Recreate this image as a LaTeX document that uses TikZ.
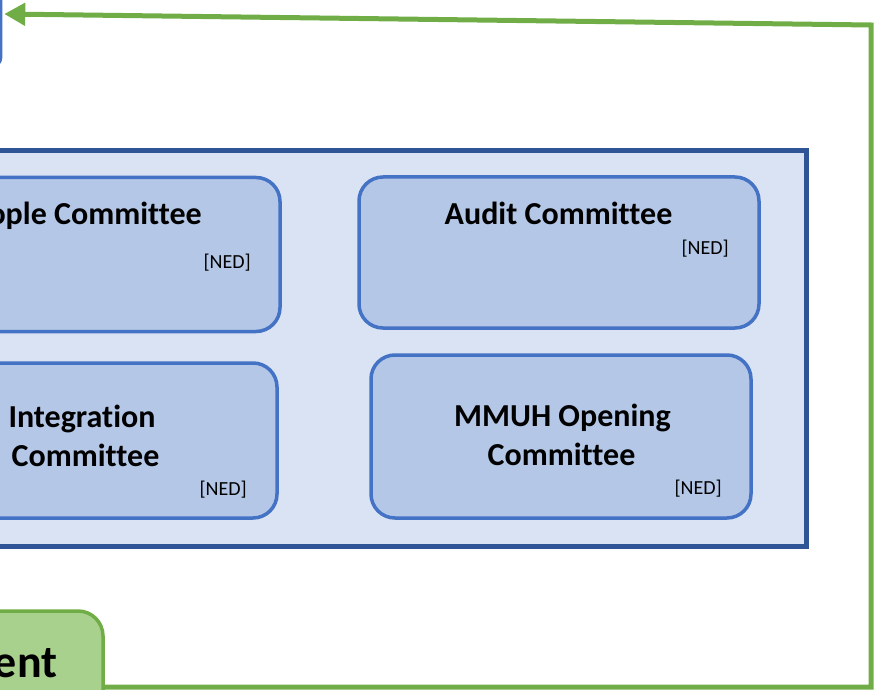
\documentclass[tikz,border=0pt]{standalone}
\usepackage{fontspec}
\setmainfont{Carlito}[Ligatures=CommonOff]
\usetikzlibrary{arrows.meta}
\definecolor{contfill}{HTML}{DAE3F3}
\definecolor{contline}{HTML}{2F5597}
\definecolor{boxfill}{HTML}{B4C7E7}
\definecolor{boxline}{HTML}{4472C4}
\definecolor{grline}{HTML}{70AD47}
\definecolor{grfill}{HTML}{A9D18E}
\begin{document}
\begin{tikzpicture}[x=1pt,y=-1pt,
  container/.style={draw=contline, fill=contfill, line width=5pt, inner sep=0pt},
  cbox/.style={draw=boxline, fill=boxfill, line width=3.5pt, rounded corners=24pt, inner sep=0pt},
  gbox/.style={draw=grline, fill=grfill, line width=3.5pt, rounded corners=25pt, inner sep=0pt},
  tbox/.style={draw=boxline, fill=white, line width=2.5pt, rounded corners=8pt, inner sep=0pt},
  title/.style={inner sep=0pt, font=\fontsize{32}{39}\selectfont\bfseries},
  ned/.style={inner sep=0pt, font=\fontsize{20}{24}\selectfont},
  flow/.style={draw=grline, line width=5pt, line join=miter}
]
\useasboundingbox (0,0) rectangle (876,690);
% top-left box (partly visible)
\node[tbox, minimum width=301pt, minimum height=104pt] (topbox) at (-149.5,14) {};
% container
\node[container, minimum width=826pt, minimum height=396pt] (cont) at (393,348.5) {};
% committees
\node[cbox, minimum width=430pt, minimum height=154pt] (people) at (65,254.5) {};
\node[cbox, minimum width=400pt, minimum height=151pt] (audit) at (559,252.5) {};
\node[cbox, minimum width=427pt, minimum height=155pt] (integ) at (63.5,440.5) {};
\node[cbox, minimum width=380pt, minimum height=163pt] (mmuh) at (561,436.5) {};
% texts
\node[title, anchor=base east] (peopleT) at (202,225) {ople Committee};
\node[ned, anchor=base east] (peopleN) at (251,268) {[NED]};
\node[title, anchor=base] (auditT) at (558.5,225) {Audit Committee};
\node[ned, anchor=base east] (auditN) at (729,254) {[NED]};
\node[title, anchor=base] (integT1) at (82,427) {Integration};
\node[title, anchor=base] (integT2) at (85.5,466) {Committee};
\node[ned, anchor=base east] (integN) at (247,495) {[NED]};
\node[title, anchor=base] (mmuhT1) at (562.5,426) {MMUH Opening};
\node[title, anchor=base] (mmuhT2) at (561.5,465) {Committee};
\node[ned, anchor=base east] (mmuhN) at (722,494) {[NED]};
% green box
\node[gbox, minimum width=303pt, minimum height=152pt] (mgmt) at (-48.5,687) {};
\node[inner sep=0pt, anchor=base east, font=\fontsize{46}{50}\selectfont\bfseries] (mgmtT) at (57.5,677) {ent};
% feedback connector
\coordinate (br) at (871,687);
\coordinate (tr) at (871,25);
\draw[flow, -{Triangle[length=21pt,width=22pt]}] (mgmt.east) -- (br) -- (tr) -- ([xshift=2pt]topbox.east);
\end{tikzpicture}
\end{document}
